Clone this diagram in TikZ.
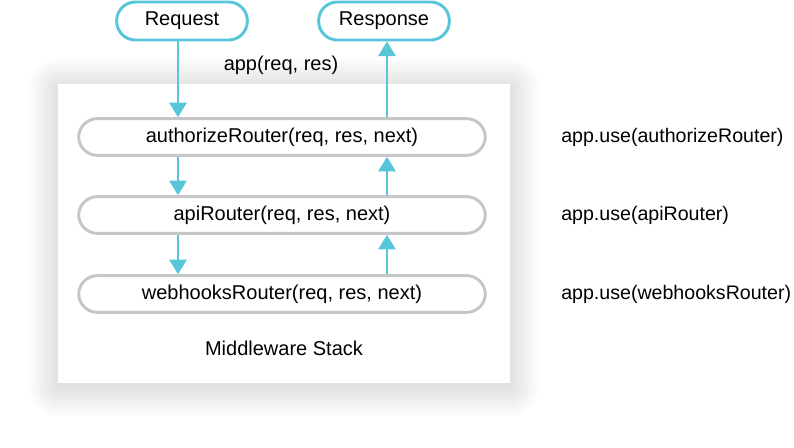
\documentclass[tikz,border=0pt]{standalone}
\usepackage{fontspec}
\setmainfont{Liberation Sans}
\usetikzlibrary{arrows.meta,calc}
\definecolor{flowcyan}{HTML}{58C6D9}
\definecolor{stackgray}{HTML}{C6C6C6}
\tikzset{
	endpoint/.style={draw=flowcyan, line width=2.2pt, rounded corners=14pt, minimum width=98pt, minimum height=28.5pt, font=\fontsize{15}{18}\selectfont},
	router/.style={draw=stackgray, line width=2.2pt, rounded corners=14pt, minimum width=305pt, minimum height=27.5pt, font=\fontsize{15}{18}\selectfont},
	plain/.style={font=\fontsize{15}{18}\selectfont},
	uselabel/.style={font=\fontsize{14.7}{18}\selectfont, anchor=west, inner sep=0pt},
	flow/.style={draw=flowcyan, line width=1.6pt, -{Triangle[width=13pt,length=11pt]}}
}

\begin{document}
\begin{tikzpicture}[x=0.75pt, y=-0.75pt]
			%%%%% START %%%%%
			
			\useasboundingbox (0, 0) rectangle (794, 448);
			
			% soft shadow round the stack
			\foreach \i in {1,...,30}
				\fill[black, opacity=0.0022, rounded corners=\i*0.75pt] ($(58, 88)+(-\i, -\i)$) rectangle ($(510, 387)+(\i, \i)$);
			\fill[white] (58, 84) rectangle (510, 383);
			
			\node[endpoint] (request) at (182, 21) {Request};
			\node[endpoint] (response) at (384, 21) {Response};
			\node[plain] (app) at (281, 65) {app(req, res)};
			
			\node[router] (authorize) at (282, 137) {authorizeRouter(req, res, next)};
			\node[router] (api) at (282, 215) {apiRouter(req, res, next)};
			\node[router] (webhooks) at (282, 294) {webhooksRouter(req, res, next)};
			\node[plain] (stack) at (284, 348) {Middleware Stack};
			
			\node[uselabel] (useauthorize) at (561, 137) {app.use(authorizeRouter)};
			\node[uselabel] (useapi) at (561, 215) {app.use(apiRouter)};
			\node[uselabel] (usewebhooks) at (561, 294) {app.use(webhooksRouter)};
			
			\coordinate (down) at (178, 0);
			\coordinate (up) at (387, 0);
			
			\draw[flow] (request.south -| down) -- (authorize.north -| down);
			\draw[flow] (authorize.south -| down) -- (api.north -| down);
			\draw[flow] (api.south -| down) -- (webhooks.north -| down);
			\draw[flow] (webhooks.north -| up) -- (api.south -| up);
			\draw[flow] (api.north -| up) -- (authorize.south -| up);
			\draw[flow] (authorize.north -| up) -- (response.south -| up);
			
			%%%%% END %%%%%
		\end{tikzpicture}
\end{document}
